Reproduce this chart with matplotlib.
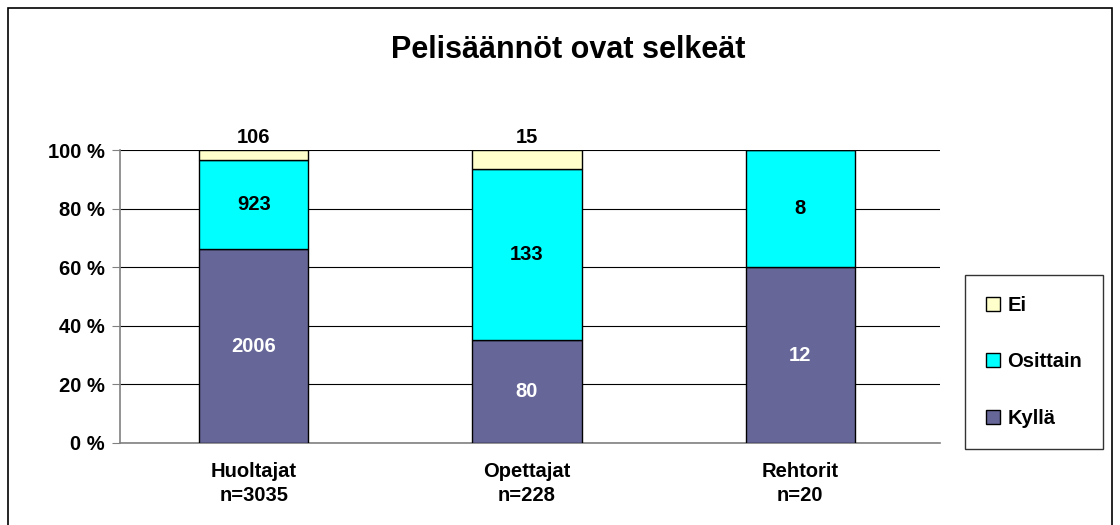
import matplotlib.pyplot as plt
import numpy as np
from matplotlib.patches import Rectangle

# Data
groups = ['Huoltajat\nn=3035', 'Opettajat\nn=228', 'Rehtorit\nn=20']
kylla = np.array([2006, 80, 12])
osittain = np.array([923, 133, 8])
ei = np.array([106, 15, 0])

totals = kylla + osittain + ei
p_kylla = kylla / totals * 100
p_osittain = osittain / totals * 100
p_ei = ei / totals * 100

col_kylla = '#666699'
col_osittain = '#00FFFF'
col_ei = '#FFFFCC'

plt.rcParams['font.family'] = ['Liberation Sans', 'DejaVu Sans']
plt.rcParams['font.weight'] = 'bold'
fs = 14.5

fig = plt.figure(figsize=(11.2, 5.25), dpi=100)
ax = fig.add_axes([120/1120, 82/525, 820/1120, 293/525])

x = np.arange(len(groups))
w = 0.4
b1 = ax.bar(x, p_kylla, w, color=col_kylla, edgecolor='black', linewidth=1, label='Kyllä', zorder=3)
b2 = ax.bar(x, p_osittain, w, bottom=p_kylla, color=col_osittain, edgecolor='black', linewidth=1, label='Osittain', zorder=3)
b3 = ax.bar(x, p_ei, w, bottom=p_kylla + p_osittain, color=col_ei, edgecolor='black', linewidth=1, label='Ei', zorder=3)

# value labels
for i in range(len(groups)):
    ax.text(x[i], p_kylla[i] / 2, str(kylla[i]), ha='center', va='center',
            color='white', fontsize=fs, fontweight='bold', zorder=4)
    ax.text(x[i], p_kylla[i] + p_osittain[i] / 2, str(osittain[i]), ha='center', va='center',
            color='black', fontsize=fs, fontweight='bold', zorder=4)
    if ei[i] > 0:
        ax.text(x[i], 104.2, str(ei[i]), ha='center', va='center',
                color='black', fontsize=fs, fontweight='bold', zorder=4)

ax.set_xlim(-0.489, 2.511)
ax.set_ylim(0, 100)
ax.set_yticks(np.arange(0, 101, 20))
ax.set_yticklabels(['%d %%' % v for v in range(0, 101, 20)], fontsize=fs, fontweight='bold')
ax.set_xticks(x)
ax.set_xticklabels(groups, fontsize=fs, fontweight='bold', linespacing=1.3)
ax.tick_params(axis='x', length=0, pad=14)
ax.tick_params(axis='y', length=6, color='#808080', pad=5)
ax.grid(axis='y', color='black', linewidth=0.8, zorder=0)
ax.spines['top'].set_visible(False)
ax.spines['right'].set_visible(False)
ax.spines['left'].set_color('#808080')
ax.spines['left'].set_linewidth(1.2)
ax.spines['bottom'].set_color('#808080')
ax.spines['bottom'].set_linewidth(1.2)

handles = [b3, b2, b1]
leg = fig.legend(handles, ['Ei', 'Osittain', 'Kyllä'], loc='upper left',
                 bbox_to_anchor=(965/1120, 1 - 275/525), fancybox=False,
                 edgecolor='black', handlelength=0.7, handleheight=0.7,
                 handletextpad=0.35, labelspacing=1.85, borderpad=1.05,
                 borderaxespad=0, prop={'size': fs, 'weight': 'bold'})
leg.get_frame().set_linewidth(1)

fig.text(568/1120, 1 - 50/525, 'Pelisäännöt ovat selkeät', ha='center', va='center',
         fontsize=22, fontweight='bold')

# outer chart border
fig.patches.append(Rectangle((8/1120, -0.05), 1104/1120, 1 - 8/525 + 0.05,
                             transform=fig.transFigure, fill=False,
                             edgecolor='black', linewidth=1.2))

fig.savefig('out.png', dpi=100, facecolor='white')
